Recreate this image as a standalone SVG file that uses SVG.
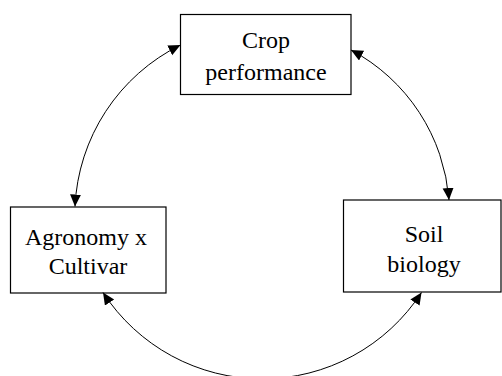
<svg xmlns="http://www.w3.org/2000/svg" width="502" height="376" viewBox="0 0 502 376">
<style>
.box{fill:#fff;stroke:#000;stroke-width:1.2}
.lbl{font-family:"Liberation Serif","Times New Roman",serif;font-size:24px;fill:#000;text-anchor:middle}
.con{fill:none;stroke:#000;stroke-width:1;marker-start:url(#ah);marker-end:url(#ah)}
</style>
<defs>
<marker id="ah" markerUnits="userSpaceOnUse" markerWidth="13" markerHeight="12" refX="12" refY="5.5" orient="auto-start-reverse">
<path d="M0,0 L12,5.5 L0,11 z" fill="#000"/>
</marker>
</defs>
<rect width="502" height="376" fill="#fff"/>
<g id="crop">
<rect class="box" x="180.5" y="14.5" width="170.5" height="80"/>
<text class="lbl" x="266" y="48">Crop</text>
<text class="lbl" x="266" y="80">performance</text>
</g>
<g id="agronomy">
<rect class="box" x="10.5" y="207" width="155.5" height="86"/>
<text class="lbl" x="86" y="245">Agronomy x</text>
<text class="lbl" x="88" y="274">Cultivar</text>
</g>
<g id="soil">
<rect class="box" x="343.5" y="200" width="157.5" height="92"/>
<text class="lbl" x="424" y="242">Soil</text>
<text class="lbl" x="424" y="272">biology</text>
</g>
<g id="connectors">
<path class="con" d="M75,206.5 A190,190 0 0 1 180.5,45"/>
<path class="con" d="M351,50 A186,186 0 0 1 449,200"/>
<path class="con" d="M103,292.5 A190,190 0 0 0 421.5,292.5"/>
</g>
</svg>
